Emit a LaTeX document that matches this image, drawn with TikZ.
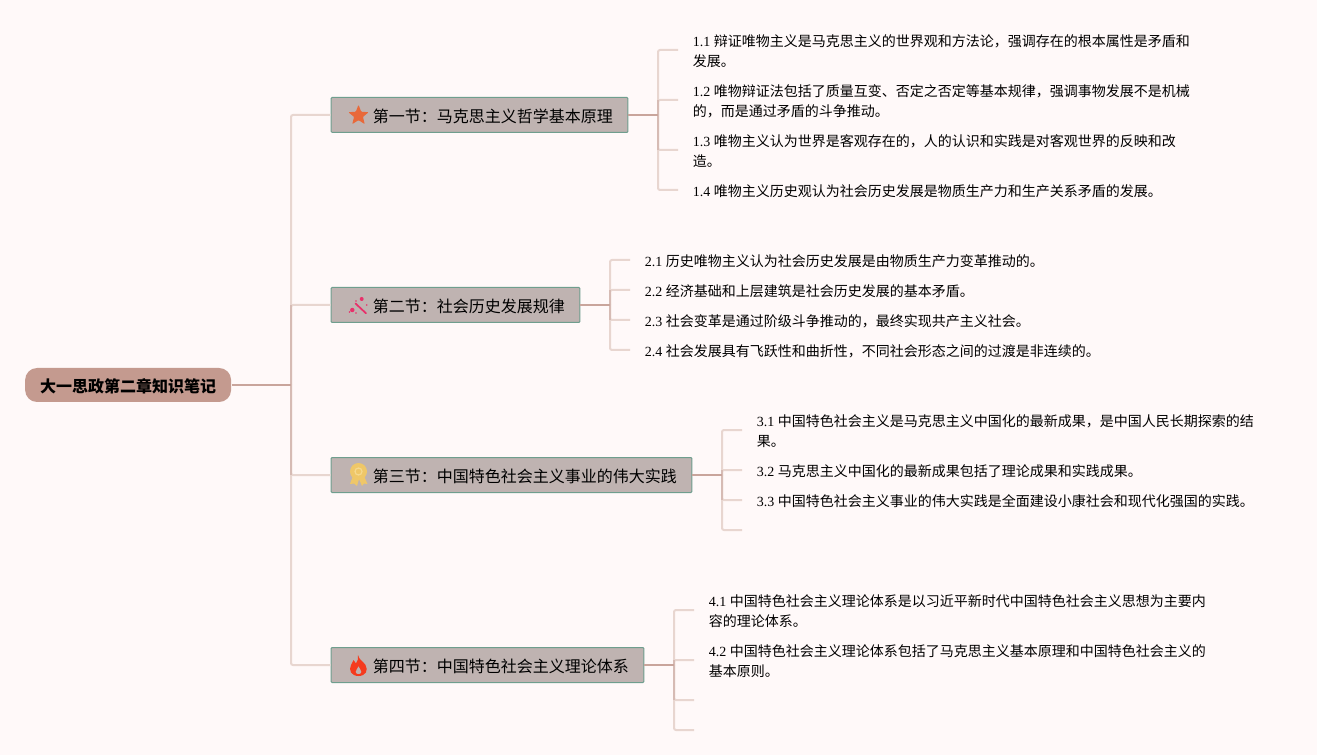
\documentclass[tikz,border=0pt]{standalone}
\usepackage{fontspec}
\usepackage{xcolor}
\usetikzlibrary{shapes.geometric}
\setmainfont{Liberation Serif}
\newfontfamily\cjk{Noto Sans CJK SC}
\newfontfamily\lat{Liberation Serif}
\definecolor{pagebg}{HTML}{FFF9F9}
\definecolor{rootfill}{HTML}{C49A8F}
\definecolor{secfill}{HTML}{BFB3B1}
\definecolor{secline}{HTML}{6F9E8E}
\definecolor{stemcol}{HTML}{C9A59C}
\definecolor{spinecol}{HTML}{D6BBB4}
\definecolor{twigcol}{HTML}{E8D6D0}
\tikzset{every picture/.style={line width=0.75pt}}
\tikzset{
  rootbox/.style={fill=rootfill,rounded corners=9pt,anchor=west,minimum width=154.5pt,minimum height=25.5pt,inner sep=0pt,text height=11.9pt,text depth=1pt,font=\cjk\bfseries\fontsize{12}{15}\selectfont},
  secbox/.style={draw=secline,fill=secfill,rounded corners=0.75pt,anchor=west,minimum height=26.25pt,inner xsep=11.25pt,inner ysep=0pt,text height=11.9pt,text depth=1pt,font=\cjk\fontsize{12}{15}\selectfont},
  leaf/.style={anchor=west,align=left,inner xsep=10.75pt,inner ysep=0pt,font=\cjk\fontsize{10.5}{15}\selectfont},
  stem/.style={draw=stemcol,line width=1.5pt},
  spine/.style={draw=spinecol,line width=1.5pt},
  twig/.style={draw=twigcol,line width=1.5pt,rounded corners=1.5pt}
}
\begin{document}
\begin{tikzpicture}[x=0.75pt,y=0.75pt,yscale=-1,xscale=1]
\fill [pagebg] (0,0) rectangle (1317,755);

% Hub Points
\coordinate (rootHub) at (291,385);
\coordinate (hub1) at (658,115);
\coordinate (hub2) at (610,305);
\coordinate (hub3) at (722,475);
\coordinate (hub4) at (674,665);
\coordinate (end34) at (742,530);
\coordinate (end43) at (694,700);
\coordinate (end44) at (694,730);

% Text Node
\draw (24.6,385) node [rootbox] (root) {大一思政第二章知识笔记};
% Text Node
\draw (330.7,115) node [secbox] (sec1) {\hspace*{20pt}第一节：马克思主义哲学基本原理};
% Text Node
\draw (330.7,305) node [secbox] (sec2) {\hspace*{20pt}第二节：社会历史发展规律};
% Text Node
\draw (330.7,475) node [secbox] (sec3) {\hspace*{20pt}第三节：中国特色社会主义事业的伟大实践};
% Text Node
\draw (330.7,665) node [secbox] (sec4) {\hspace*{20pt}第四节：中国特色社会主义理论体系};

% Text Node
\draw (678,51) node [leaf] (leaf11) {{\lat 1.1 }辩证唯物主义是马克思主义的世界观和方法论，强调存在的根本属性是矛盾和\\发展。};
% Text Node
\draw (678,101) node [leaf] (leaf12) {{\lat 1.2 }唯物辩证法包括了质量互变、否定之否定等基本规律，强调事物发展不是机械\\的，而是通过矛盾的斗争推动。};
% Text Node
\draw (678,151) node [leaf] (leaf13) {{\lat 1.3 }唯物主义认为世界是客观存在的，人的认识和实践是对客观世界的反映和改\\造。};
% Text Node
\draw (678,191) node [leaf] (leaf14) {{\lat 1.4 }唯物主义历史观认为社会历史发展是物质生产力和生产关系矛盾的发展。};

% Text Node
\draw (630,261) node [leaf] (leaf21) {{\lat 2.1 }历史唯物主义认为社会历史发展是由物质生产力变革推动的。};
% Text Node
\draw (630,291) node [leaf] (leaf22) {{\lat 2.2 }经济基础和上层建筑是社会历史发展的基本矛盾。};
% Text Node
\draw (630,321) node [leaf] (leaf23) {{\lat 2.3 }社会变革是通过阶级斗争推动的，最终实现共产主义社会。};
% Text Node
\draw (630,351) node [leaf] (leaf24) {{\lat 2.4 }社会发展具有飞跃性和曲折性，不同社会形态之间的过渡是非连续的。};

% Text Node
\draw (742,431) node [leaf] (leaf31) {{\lat 3.1 }中国特色社会主义是马克思主义中国化的最新成果，是中国人民长期探索的结\\果。};
% Text Node
\draw (742,471) node [leaf] (leaf32) {{\lat 3.2 }马克思主义中国化的最新成果包括了理论成果和实践成果。};
% Text Node
\draw (742,501) node [leaf] (leaf33) {{\lat 3.3 }中国特色社会主义事业的伟大实践是全面建设小康社会和现代化强国的实践。};

% Text Node
\draw (694,611) node [leaf] (leaf41) {{\lat 4.1 }中国特色社会主义理论体系是以习近平新时代中国特色社会主义思想为主要内\\容的理论体系。};
% Text Node
\draw (694,661) node [leaf] (leaf42) {{\lat 4.2 }中国特色社会主义理论体系包括了马克思主义基本原理和中国特色社会主义的\\基本原则。};

%Straight Lines
\draw [twig]  (rootHub) |- (sec1.west) ;
\draw [twig]  (rootHub) |- (sec2.west) ;
\draw [twig]  (rootHub) |- (sec3.west) ;
\draw [twig]  (rootHub) |- (sec4.west) ;
\draw [spine]  (sec2.west -| rootHub) -- (sec3.west -| rootHub) ;
\draw [stem]  (root.east) -- (rootHub) ;

%Straight Lines
\draw [twig]  (hub1) |- ([yshift=-0.75pt]leaf11.west) ;
\draw [twig]  (hub1) |- ([yshift=-0.75pt]leaf12.west) ;
\draw [twig]  (hub1) |- ([yshift=-0.75pt]leaf13.west) ;
\draw [twig]  (hub1) |- ([yshift=-0.75pt]leaf14.west) ;
\draw [spine]  ([yshift=-0.75pt]leaf12.west -| hub1) -- ([yshift=-0.75pt]leaf13.west -| hub1) ;
\draw [stem]  (sec1.east) -- (hub1) ;

%Straight Lines
\draw [twig]  (hub2) |- ([yshift=-0.75pt]leaf21.west) ;
\draw [twig]  (hub2) |- ([yshift=-0.75pt]leaf22.west) ;
\draw [twig]  (hub2) |- ([yshift=-0.75pt]leaf23.west) ;
\draw [twig]  (hub2) |- ([yshift=-0.75pt]leaf24.west) ;
\draw [spine]  ([yshift=-0.75pt]leaf22.west -| hub2) -- ([yshift=-0.75pt]leaf23.west -| hub2) ;
\draw [stem]  (sec2.east) -- (hub2) ;

%Straight Lines
\draw [twig]  (hub3) |- ([yshift=-0.75pt]leaf31.west) ;
\draw [twig]  (hub3) |- ([yshift=-0.75pt]leaf32.west) ;
\draw [twig]  (hub3) |- ([yshift=-0.75pt]leaf33.west) ;
\draw [twig]  (hub3) |- (end34) ;
\draw [spine]  ([yshift=-0.75pt]leaf32.west -| hub3) -- ([yshift=-0.75pt]leaf33.west -| hub3) ;
\draw [stem]  (sec3.east) -- (hub3) ;

%Straight Lines
\draw [twig]  (hub4) |- ([yshift=-0.75pt]leaf41.west) ;
\draw [twig]  (hub4) |- ([yshift=-0.75pt]leaf42.west) ;
\draw [twig]  (hub4) |- (end43) ;
\draw [twig]  (hub4) |- (end44) ;
\draw [spine]  ([yshift=-0.75pt]leaf42.west -| hub4) -- (end43 -| hub4) ;
\draw [stem]  (sec4.east) -- (hub4) ;

%Star Icon
\draw (358.5,115.5) node [star,star points=5,star point ratio=2.3,fill={rgb,255:red,232;green,105;blue,58},inner sep=0pt,minimum size=16pt,rounded corners=0.6pt] (iconStar) {};

%Wand Icon
\draw [line width=1.3pt,color={rgb,255:red,232;green,48;blue,106},line cap=round]  (355.5,303.5) -- (366,313.3) ;
\fill [color={rgb,255:red,232;green,48;blue,106}] (361.7,299) circle (2) (352.3,310) circle (2.2) (356,301) circle (0.8) (366.7,305) circle (0.8) (356,313) circle (0.9) (349.5,312) circle (0.8);

%Medal Icon
\fill [color={rgb,255:red,239;green,199;blue,104}] (353,476) -- (350,484) -- (354,483.5) -- (357,486) -- (359,479) -- (362,486) -- (364,483.5) -- (367.5,484) -- (364,476) -- cycle ;
\fill [color={rgb,255:red,239;green,199;blue,104}] (358.5,471.5) circle (8.5) ;
\draw [line width=0.9pt,color={rgb,255:red,246;green,217;blue,143}] (358.5,471.5) circle (3.5) ;

%Flame Icon
\fill [color={rgb,255:red,245;green,59;blue,30},even odd rule] (358,655) .. controls (359,660) and (363,661) .. (365.5,665) .. controls (368.5,670) and (366,676) .. (358.5,676) .. controls (351,676) and (348.5,670) .. (351,665) .. controls (352,663) and (353,661.5) .. (353.5,660) .. controls (355,661) and (355.5,662) .. (356,663.5) .. controls (358,661) and (358.5,658) .. (358,655) -- cycle (358.5,666) .. controls (359,669) and (362,670) .. (361.5,672) .. controls (361,675) and (356,675) .. (355.5,672) .. controls (355,670) and (358,669) .. (358.5,666) -- cycle ;

\end{tikzpicture}
\end{document}
